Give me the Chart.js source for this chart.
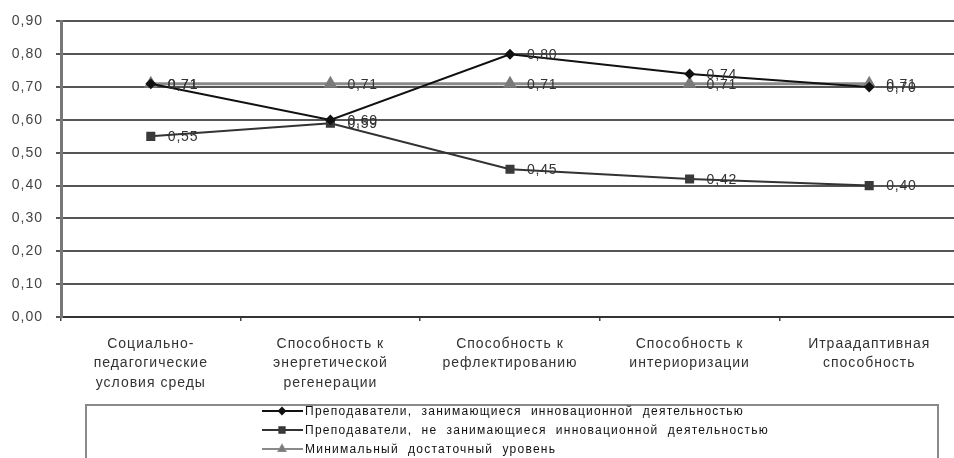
<!DOCTYPE html>
<html>
<head>
<meta charset="utf-8">
<script src="https://cdn.jsdelivr.net/npm/chart.js@4.4.1/dist/chart.umd.min.js"></script>
<style>
  html, body { margin: 0; padding: 0; background: #fff; overflow: hidden; }
  #wrap { width: 954px; height: 458px; overflow: hidden; position: relative; }
  canvas { position: absolute; left: 0; top: 0; }
</style>
</head>
<body>
<div id="wrap"><canvas id="chart" width="967" height="458"></canvas></div>
<script>
// Categories (multi-line axis labels)
const categories = [
  ['Социально-', 'педагогические', 'условия среды'],
  ['Способность к', 'энергетической', 'регенерации'],
  ['Способность к', 'рефлектированию'],
  ['Способность к', 'интериоризации'],
  ['Итраадаптивная', 'способность']
];

// Series values
const innovators    = [0.71, 0.60, 0.80, 0.74, 0.70];
const nonInnovators = [0.55, 0.59, 0.45, 0.42, 0.40];
const minimumLevel  = [0.71, 0.71, 0.71, 0.71, 0.71];

// Series names
const seriesNames = [
  'Преподаватели,  занимающиеся  инновационной  деятельностью',
  'Преподаватели,  не  занимающиеся  инновационной  деятельностью',
  'Минимальный  достаточный  уровень'
];

// Value axis range
const yMin = 0, yMax = 0.9, yStep = 0.1;

const FONT = '"Liberation Sans", Arial, sans-serif';
const fmt = v => v.toFixed(2).replace('.', ',');

// Slightly spaced lettering for all chart text
const spacing = {
  id: 'spacing',
  beforeDraw(chart) { chart.ctx.letterSpacing = '1px'; }
};

// Value labels next to every marker
const valueLabels = {
  id: 'valueLabels',
  afterDatasetsDraw(chart) {
    const ctx = chart.ctx;
    ctx.save();
    ctx.font = '14px ' + FONT;
    ctx.fillStyle = '#333';
    ctx.textAlign = 'left';
    ctx.textBaseline = 'middle';
    ctx.letterSpacing = '0.8px';
    chart.data.datasets.forEach((ds, i) => {
      const meta = chart.getDatasetMeta(i);
      meta.data.forEach((pt, j) => {
        ctx.fillText(fmt(ds.data[j]), pt.x + 17, pt.y + 1);
      });
    });
    ctx.restore();
  }
};

// Framed legend under the axis labels
const boxLegend = {
  id: 'boxLegend',
  afterDraw(chart) {
    const ctx = chart.ctx;
    ctx.save();
    ctx.strokeStyle = '#8a8a8a';
    ctx.lineWidth = 2;
    ctx.strokeRect(86, 405, 852, 80);
    const rows = [411, 430, 449];
    ctx.font = '12px ' + FONT;
    ctx.letterSpacing = '1.25px';
    ctx.textBaseline = 'middle';
    ctx.textAlign = 'left';
    chart.data.datasets.forEach((ds, i) => {
      const y = rows[i];
      ctx.strokeStyle = ds.borderColor;
      ctx.lineWidth = 2;
      ctx.beginPath();
      ctx.moveTo(262, y);
      ctx.lineTo(303, y);
      ctx.stroke();
      Chart.helpers.drawPoint(ctx, {
        pointStyle: ds.pointStyle,
        radius: ds.pointRadius * 0.75,
        borderWidth: 1,
        rotation: 0
      }, 282, y);
      ctx.fillStyle = ds.pointBackgroundColor;
      ctx.strokeStyle = ds.pointBorderColor;
      ctx.fill();
      ctx.fillStyle = '#111';
      ctx.fillText(ds.label, 305, y + 1);
    });
    ctx.restore();
  }
};

new Chart(document.getElementById('chart'), {
  type: 'line',
  data: {
    labels: categories,
    datasets: [
      {
        label: seriesNames[0],
        data: innovators,
        borderColor: '#111',
        borderWidth: 2,
        pointStyle: 'rectRot',
        pointRadius: 4,
        pointBackgroundColor: '#111',
        pointBorderColor: '#111',
        tension: 0
      },
      {
        label: seriesNames[1],
        data: nonInnovators,
        borderColor: '#333',
        borderWidth: 2,
        pointStyle: 'rect',
        pointRadius: 5,
        pointBackgroundColor: '#3a3a3a',
        pointBorderColor: '#3a3a3a',
        tension: 0
      },
      {
        label: seriesNames[2],
        data: minimumLevel,
        borderColor: '#8a8a8a',
        borderWidth: 3,
        pointStyle: 'triangle',
        pointRadius: 5,
        pointBackgroundColor: '#7a7a7a',
        pointBorderColor: '#7a7a7a',
        tension: 0
      }
    ]
  },
  options: {
    responsive: false,
    animation: false,
    devicePixelRatio: 1,
    layout: { padding: { top: 19, left: 0, right: 0, bottom: 0 } },
    plugins: {
      legend: { display: false },
      tooltip: { enabled: false }
    },
    scales: {
      x: {
        offset: true,
        grid: {
          offset: true,
          drawOnChartArea: false,
          drawTicks: true,
          tickLength: 4,
          color: '#444',
          lineWidth: 1.5
        },
        border: { display: true, color: '#333', width: 2 },
        ticks: {
          autoSkip: false,
          maxRotation: 0,
          minRotation: 0,
          padding: 13,
          color: '#333',
          font: { family: FONT, size: 14, lineHeight: 1.4 }
        },
        afterFit(scale) { scale.height = 141; }
      },
      y: {
        min: yMin,
        max: yMax,
        ticks: {
          stepSize: yStep,
          padding: 13,
          color: '#444',
          font: { family: FONT, size: 14 },
          callback: v => fmt(v)
        },
        grid: {
          color: '#555',
          lineWidth: 2,
          tickLength: 5,
          drawTicks: true
        },
        border: { display: true, color: '#777', width: 3 },
        afterFit(scale) { scale.width = 61; }
      }
    }
  },
  plugins: [spacing, valueLabels, boxLegend]
});
</script>
</body>
</html>
